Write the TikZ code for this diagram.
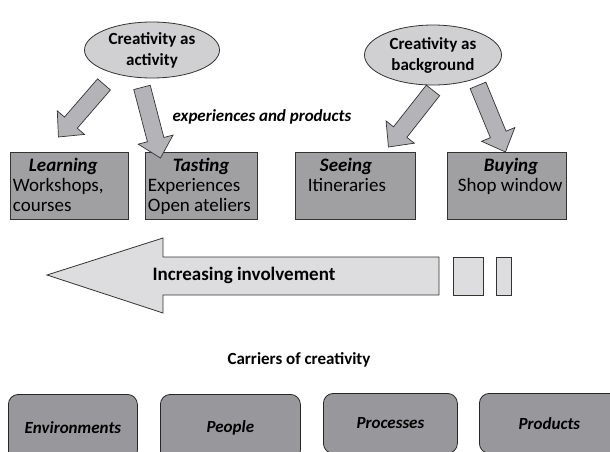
\documentclass[tikz,border=0pt]{standalone}
\usepackage{fontspec}
\setmainfont{Carlito}
\usetikzlibrary{shapes.geometric}
\usetikzlibrary{calc}
\usetikzlibrary{positioning}

\definecolor{ovalgray}{RGB}{208,208,210}
\definecolor{boxgray}{RGB}{160,160,163}
\definecolor{fatgray}{RGB}{180,180,184}
\definecolor{palegray}{RGB}{221,221,223}
\definecolor{carriergray}{RGB}{152,152,156}

% block arrow from tail #1 to tip #2
\newcommand{\fatarrow}[2]{%
	\coordinate (hb) at ($(#2)!19pt!(#1)$);
	\draw[fat] ($(#1)!8.5pt!90:(#2)$) -- ($(hb)!8.5pt!-90:(#1)$) -- ($(hb)!18pt!-90:(#1)$)
	-- (#2) -- ($(hb)!18pt!90:(#1)$) -- ($(hb)!8.5pt!90:(#1)$) -- ($(#1)!8.5pt!-90:(#2)$) -- cycle;}

\begin{document}
\begin{tikzpicture}[x=1pt,y=-1pt,
		oval/.style = {
			ellipse, draw=black!80, fill=ovalgray, line width=0.8pt,
			inner sep=0pt, align=center, font=\fontsize{17}{21}\selectfont\bfseries
		},
		card/.style = {
			rectangle, draw=black!80, fill=boxgray, line width=0.9pt, anchor=north west,
			inner xsep=2.5pt, inner ysep=6pt, font=\fontsize{19}{20}\selectfont
		},
		carrier/.style = {
			rectangle, rounded corners=10pt, draw=black!85, fill=carriergray, line width=0.8pt,
			anchor=north west, font=\fontsize{17}{20}\selectfont\bfseries\itshape
		},
		fat/.style = {draw=black!80, fill=fatgray, line width=0.7pt, line join=miter},
		pale/.style = {draw=black!80, fill=palegray, line width=0.8pt}]
		\clip (0,0) rectangle (610,451);
		
		\node at (152,50) (act) [oval, minimum width=135, minimum height=56] {Creativity as\\activity};
		\node at (433,55) (bg) [oval, minimum width=137, minimum height=60] {Creativity as\\background};
		
		\node at (10,152) (learn) [card] {\parbox[t][55pt][t]{113pt}{\hspace*{16pt}\textbf{\textit{Learning}}\\Workshops,\\courses}};
		\node at (145,152) (taste) [card] {\parbox[t][55pt][t]{107pt}{\hspace*{25pt}\textbf{\textit{Tasting}}\\Experiences\\Open ateliers}};
		\node at (295,152) (see) [card] {\parbox[t][55pt][t]{115pt}{\hspace*{22pt}\textbf{\textit{Seeing}}\\\hspace*{10pt}Itineraries}};
		\node at (447,152) (buy) [card] {\parbox[t][55pt][t]{114pt}{\hspace*{34pt}\textbf{\textit{Buying}}\\\hspace*{8pt}Shop window}};
		
		\coordinate (t1) at ($(act.south)+(-48,6)$);
		\coordinate (t2) at ($(act.south)+(-10,9)$);
		\coordinate (t3) at ($(bg.south)+(0,5)$);
		\coordinate (t4) at ($(bg.south)+(45,0)$);
		\coordinate (h1) at ($(learn.north)+(-11,-15)$);
		\coordinate (h2) at ($(taste.north)+(-41,6)$);
		\coordinate (h3) at ($(see.north)+(33,-5)$);
		\coordinate (h4) at ($(buy.north)+(-1.5,0)$);
		\fatarrow{t1}{h1}
		\fatarrow{t2}{h2}
		\fatarrow{t3}{h3}
		\fatarrow{t4}{h4}
		
		\node at (262,117) (exp) [font=\fontsize{17}{20}\selectfont\bfseries\itshape] {experiences and products};
		
		\draw[pale] (439,257) -- (163,257) -- (163,238) -- (47,275) -- (163,313) -- (163,295) -- (439,295) -- cycle;
		\draw[pale] (453,257) rectangle (483,295);
		\draw[pale] (496,257) rectangle (511,295);
		\node at (244,275) (inv) [font=\fontsize{19}{22}\selectfont\bfseries] {Increasing involvement};
		
		\node at (299,360) (carr) [font=\fontsize{17}{20}\selectfont\bfseries] {Carriers of creativity};
		
		\node at (8,394) (env) [carrier, minimum width=129, minimum height=66] {Environments};
		\node at (160,394) (peo) [carrier, minimum width=140, minimum height=66] {People};
		\node at (323,393) (proc) [carrier, minimum width=134, minimum height=60] {Processes};
		\node at (479,393) (prod) [carrier, minimum width=140, minimum height=60] {Products};
	\end{tikzpicture}
\end{document}
